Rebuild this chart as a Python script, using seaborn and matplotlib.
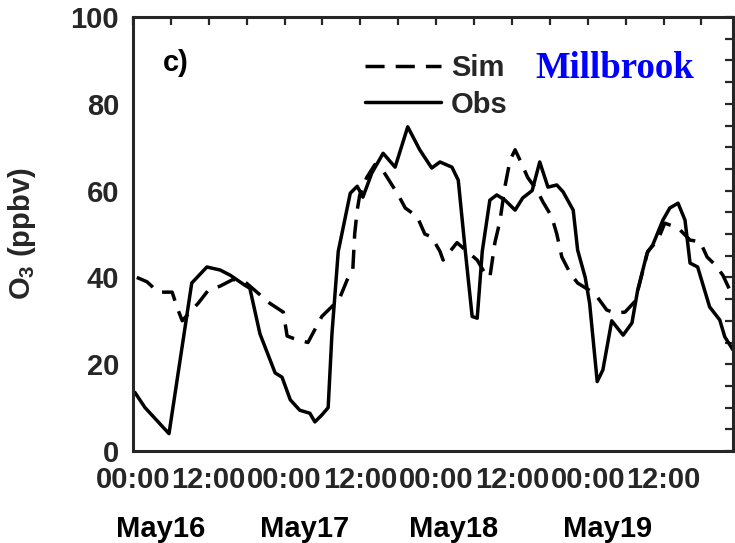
import matplotlib
matplotlib.use("Agg")
import matplotlib.pyplot as plt
import matplotlib.transforms as mtransforms
from matplotlib.ticker import MultipleLocator, FixedLocator
import pandas as pd
import seaborn as sns

# ── Data (hours since 00:00 May16, O3 in ppbv) ───────────────
obs_hours = [0.3, 0.8, 1.9, 5.7, 9.3, 11.7, 13.8, 15.4, 17.7, 18.5, 20.1, 22.5,
             23.6, 24.9, 26.4, 28.0, 28.8, 29.9, 30.9, 31.5, 32.5, 34.4, 35.5,
             36.4, 37.8, 39.6, 41.5, 43.5, 45.4, 47.3, 48.6, 50.5, 51.5, 52.6,
             53.7, 54.5, 55.3, 56.5, 57.6, 58.9, 60.5, 61.7, 63.2, 64.4, 65.7,
             67.1, 68.1, 69.7, 70.4, 71.6, 72.3, 73.5, 74.4, 75.8, 77.6, 79.0,
             79.9, 81.4, 82.3, 83.9, 85.0, 86.3, 87.4, 88.2, 89.4, 91.3, 92.9,
             93.7, 95.0]
obs_o3 = [13.5, 12.4, 10.0, 4.0, 38.7, 42.4, 41.7, 40.5, 38.2, 37.5, 27.0, 18.0,
          17.0, 11.8, 9.4, 8.7, 6.7, 8.3, 10.0, 27.0, 46.0, 59.4, 61.0,
          58.5, 64.0, 68.6, 65.4, 74.7, 69.4, 65.2, 66.6, 65.4, 62.4, 46.3,
          31.0, 30.6, 46.0, 57.8, 59.0, 57.8, 55.5, 58.3, 60.0, 66.6, 60.8,
          61.3, 59.7, 55.5, 46.3, 40.0, 34.0, 16.0, 18.7, 30.0, 26.7, 29.5,
          37.0, 45.6, 47.5, 53.2, 56.0, 57.1, 53.2, 43.3, 42.4, 33.2, 30.2,
          26.3, 23.3]

sim_hours = [0.6, 2.2, 4.0, 6.2, 7.0, 7.8, 9.0, 10.3, 11.9, 13.8, 15.8, 17.7,
             19.3, 21.7, 23.8, 24.4, 25.3, 27.7, 28.8, 29.9, 32.0, 32.8, 33.9,
             34.8, 35.1, 35.5, 35.9, 37.0, 38.3, 39.4, 40.7, 42.0, 43.1, 45.0,
             46.2, 47.3, 48.6, 49.1, 50.2, 51.3, 52.9, 54.5, 55.7, 56.5, 57.3,
             58.1, 58.9, 59.7, 60.5, 61.6, 62.5, 64.0, 64.9, 66.3, 67.1, 67.9,
             69.2, 70.4, 72.3, 73.5, 75.0, 76.3, 77.9, 79.5, 81.5, 83.1, 84.2,
             86.3, 88.2, 89.8, 90.9, 92.1, 93.4, 95.0]
sim_o3 = [40.0, 39.0, 36.6, 36.6, 33.0, 30.0, 32.0, 34.0, 37.0, 38.0, 39.5, 39.0,
          37.0, 34.0, 32.0, 26.5, 26.0, 25.0, 28.0, 31.0, 34.0, 35.5, 39.4,
          41.7, 50.0, 55.5, 59.0, 63.0, 66.0, 65.0, 62.0, 59.0, 56.0, 54.0,
          50.0, 49.3, 46.0, 44.0, 46.0, 48.0, 46.0, 44.0, 41.0, 40.0, 48.0,
          53.0, 61.0, 67.0, 69.4, 66.0, 63.0, 60.0, 57.4, 54.0, 50.0, 44.7,
          41.0, 38.7, 37.0, 35.5, 32.5, 31.8, 32.0, 34.5, 46.0, 48.6, 52.5,
          51.4, 48.6, 48.2, 44.7, 43.0, 40.5, 35.5]

tick_hours = [0, 12, 24, 36, 48, 60, 72, 84]
tick_labels = ["00:00", "12:00", "00:00", "12:00", "00:00", "12:00", "00:00", "12:00"]
day_labels = ["May16", "May17", "May18", "May19"]
day_hours = [4.4, 27.2, 50.7, 75.2]

sns.set_theme(style="white")
plt.rcParams["font.family"] = ["Liberation Sans", "DejaVu Sans"]
plt.rcParams["font.weight"] = "bold"
plt.rcParams["axes.labelweight"] = "bold"
plt.rcParams["mathtext.fontset"] = "custom"
plt.rcParams["mathtext.rm"] = "Liberation Sans:bold"
plt.rcParams["mathtext.it"] = "Liberation Sans:bold"
plt.rcParams["mathtext.bf"] = "Liberation Sans:bold"

axc = "#262626"

fig = plt.figure(figsize=(7.35, 5.43), dpi=100)
ax = fig.add_axes([133 / 735, 92 / 543, 600 / 735, 434 / 543])

sim_df = pd.DataFrame({"hour": sim_hours, "o3": sim_o3})
obs_df = pd.DataFrame({"hour": obs_hours, "o3": obs_o3})
sns.lineplot(data=sim_df, x="hour", y="o3", ax=ax, color="black", lw=2.5,
             linestyle=(0, (5.5, 3.2)), label="Sim")
sns.lineplot(data=obs_df, x="hour", y="o3", ax=ax, color="black", lw=2.5,
             label="Obs")

ax.set_xlim(0, 95)
ax.set_ylim(0, 100)
ax.xaxis.set_major_locator(FixedLocator(tick_hours))
ax.set_xticklabels(tick_labels)
ax.xaxis.set_minor_locator(MultipleLocator(6))
ax.yaxis.set_major_locator(MultipleLocator(20))
ax.yaxis.set_minor_locator(MultipleLocator(5))
ax.tick_params(which="both", direction="in", top=True, right=True,
               length=6, width=1.6, color=axc)
ax.tick_params(axis="both", labelsize=21, labelcolor=axc)
ax.tick_params(axis="x", pad=11)
ax.tick_params(axis="y", pad=10)
for s in ax.spines.values():
    s.set_linewidth(2.2)
    s.set_color(axc)

ax.set_xlabel("")
ax.set_ylabel("O$_3$ (ppbv)", fontsize=21, fontweight="bold", color=axc)
ax.yaxis.set_label_coords(-0.158, 0.5)

# day labels under the time ticks
trans = mtransforms.blended_transform_factory(ax.transData, ax.transAxes)
for h, lab in zip(day_hours, day_labels):
    ax.text(h, -0.18, lab, transform=trans, ha="center", va="center",
            fontsize=21, color="black", clip_on=False)

ax.text(0.05, 0.895, "c)", transform=ax.transAxes, fontsize=21,
        color="black", va="center")
ax.text(0.67, 0.859, "Millbrook", transform=ax.transAxes, fontsize=26.5,
        family="Liberation Serif", fontweight="bold", color="#0000ff",
        va="baseline")

ax.legend(loc="upper left", bbox_to_anchor=(0.387, 0.915), frameon=False,
          fontsize=21, handlelength=2.6, handletextpad=0.35, labelspacing=0.3,
          borderpad=0, borderaxespad=0)

fig.savefig("out.png", dpi=100)
plt.close()
